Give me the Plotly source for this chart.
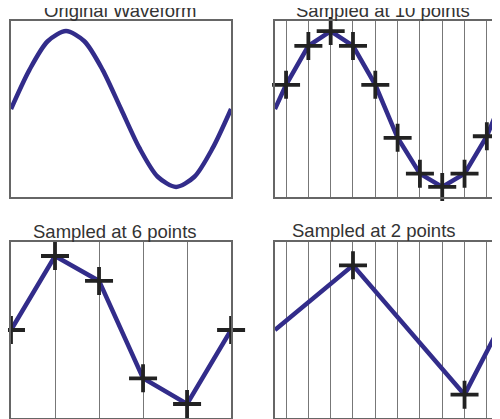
import plotly.graph_objects as go

# Original waveform key points (one period), drawn as a smooth spline
orig_t = [0, 1/12, 2/12, 3/12, 4/12, 5/12, 6/12, 7/12, 8/12, 9/12, 10/12, 11/12, 1.0]
orig_v = [0, 0.5, 0.87, 1.0, 0.87, 0.5, 0, -0.5, -0.87, -1.0, -0.87, -0.5, 0]

# 10-point sampling
s10_t = [0.05, 0.15, 0.25, 0.35, 0.45, 0.55, 0.65, 0.75, 0.85, 0.95]
s10_v = [0.31, 0.81, 1.0, 0.81, 0.31, -0.37, -0.83, -1.0, -0.83, -0.35]
# 6-point sampling
s6_t = [0.0, 0.2, 0.4, 0.6, 0.8, 1.0]
s6_v = [0.0, 0.95, 0.63, -0.62, -0.95, 0.0]
# 2-point sampling
s2_t = [0.35, 0.85]
s2_v = [0.83, -0.83]
# edge values of the reconstructed lines
edge_t = [0.0, 1.0]
edge_v = [0.0, 0.0]

titles = ["Original Waveform", "Sampled at 10 points", "Sampled at 6 points", "Sampled at 2 points"]

W, H, OFF = 492, 411, 8  # page body has an 8px margin
def px_x(x): return (x - OFF) / W
def px_y(y): return 1 - (y - OFF) / H

LINE = "#322c8a"
fig = go.Figure()
fig.add_trace(go.Scatter(x=orig_t, y=orig_v, mode="lines", line=dict(color=LINE, width=4.5, shape="spline", smoothing=0.8),
                         xaxis="x", yaxis="y", cliponaxis=False))

def sampled(t, v, ax, ay, with_edges=True):
    lt = [edge_t[0]] + t + [edge_t[1]] if with_edges else t
    lv = [edge_v[0]] + v + [edge_v[1]] if with_edges else v
    fig.add_trace(go.Scatter(x=lt, y=lv, mode="lines", line=dict(color=LINE, width=4.5),
                             xaxis=ax, yaxis=ay, cliponaxis=False))
    fig.add_trace(go.Scatter(x=t, y=v, mode="markers",
                             marker=dict(symbol="cross-thin", size=20, line=dict(color="#222", width=3.8)),
                             xaxis=ax, yaxis=ay, cliponaxis=False))

sampled(s10_t, s10_v, "x2", "y2")
sampled(s6_t, s6_v, "x3", "y3", with_edges=False)
sampled(s2_t, s2_v, "x4", "y4")

doms_x = [[px_x(11), px_x(232)], [px_x(276), 1.0]] * 2
doms_y = [[px_y(197), px_y(21)]] * 2 + [[px_y(418), px_y(242)]] * 2
grids = [[], s10_t, s6_t[1:-1], s10_t]
layout = dict(width=W, height=H, margin=dict(l=0, r=0, t=0, b=0),
              paper_bgcolor="white", plot_bgcolor="white", showlegend=False)
for i in range(4):
    sfx = "" if i == 0 else str(i + 1)
    layout["xaxis" + sfx] = dict(domain=doms_x[i], range=[0, 1], anchor="y" + sfx,
                                 showline=True, mirror=True, linecolor="#666", linewidth=1.5,
                                 tickvals=grids[i], showticklabels=False, ticks="",
                                 showgrid=True, gridcolor="#777", gridwidth=1, zeroline=False)
    layout["yaxis" + sfx] = dict(domain=doms_y[i], range=[-1.13, 1.13], anchor="x" + sfx,
                                 showline=True, mirror=True, linecolor="#666", linewidth=1.5,
                                 showgrid=False, showticklabels=False, ticks="", zeroline=False)
fig.update_layout(**layout)

pos = [(121, 11), (385, 11), (115, 231), (375, 230)]
for (px, py), t in zip(pos, titles):
    fig.add_annotation(text=t, x=px_x(px), y=px_y(py), xref="paper", yref="paper",
                       showarrow=False, font=dict(family="Liberation Sans, Arial", size=18.5, color="#333"),
                       xanchor="center", yanchor="middle")

fig.write_html("out.html")
